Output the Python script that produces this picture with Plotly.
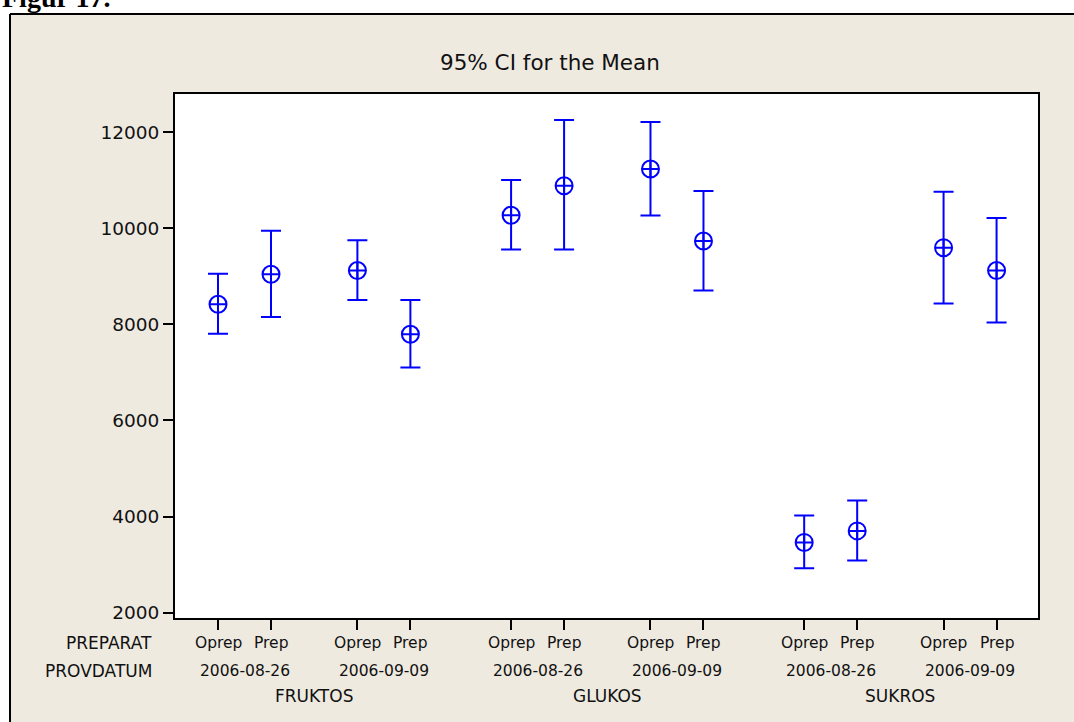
import plotly.graph_objects as go

# Category levels along the x axis
groups = ["FRUKTOS", "GLUKOS", "SUKROS"]
dates = ["2006-08-26", "2006-09-09"]
preps = ["Oprep", "Prep"]

# Means and 95% confidence limits, ordered group -> date -> preparation
mean_vals = [8420, 9045, 9125, 7795, 10275, 10890, 11240, 9740, 3460, 3700, 9600, 9125]
lower_vals = [7806, 8154, 8508, 7105, 9561, 9561, 10268, 8708, 2922, 3082, 8437, 8040]
upper_vals = [9055, 9950, 9757, 8508, 11011, 12260, 12218, 10783, 4019, 4331, 10763, 10220]

y_ticks = [2000, 4000, 6000, 8000, 10000, 12000]

# Horizontal layout: preparations 1 unit apart, extra gaps between dates and groups
DATE_STEP = 2.63
GROUP_STEP = 5.53
x_pos, x_prep = [], []
for gi, g in enumerate(groups):
    for di, d in enumerate(dates):
        for pi, p in enumerate(preps):
            x_pos.append(gi * GROUP_STEP + di * DATE_STEP + pi)
            x_prep.append(p)

err_plus = [u - m for u, m in zip(upper_vals, mean_vals)]
err_minus = [m - l for m, l in zip(mean_vals, lower_vals)]

BLUE = "#0000FF"
BEIGE = "#EEEAE0"
TXT = "#111111"
FONT = "DejaVu Sans"

fig = go.Figure()
fig.add_trace(go.Scatter(
    x=x_pos, y=mean_vals, mode="markers",
    marker=dict(symbol="circle-cross-open", size=17, color=BLUE,
                line=dict(color=BLUE, width=2)),
    error_y=dict(type="data", symmetric=False, array=err_plus,
                 arrayminus=err_minus, color=BLUE, thickness=2, width=10),
    showlegend=False,
))

# pixel geometry of the plot area
W, H = 1074, 722
L, R, T, B = 175, 1038, 94, 618.5
pw, ph = R - L, B - T


def px(xp):
    return (xp - L) / pw


def py(yp):
    return (B - yp) / ph


ann = []
# title
ann.append(dict(x=px(550), y=py(62), xref="paper", yref="paper",
                text="95% CI for the Mean", showarrow=False,
                font=dict(family=FONT, size=21.5, color=TXT),
                xanchor="center", yanchor="middle"))
# row headers
for txt, yp in [("PREPARAT", 644), ("PROVDATUM", 672)]:
    ann.append(dict(x=px(154), y=py(yp), xref="paper", yref="paper",
                    text=txt, showarrow=False,
                    font=dict(family=FONT, size=17, color=TXT),
                    xanchor="right", yanchor="middle"))
# preparation labels under each tick
for xv, p in zip(x_pos, x_prep):
    ann.append(dict(x=xv, y=py(644), xref="x", yref="paper", text=p,
                    showarrow=False, font=dict(family=FONT, size=15.5, color=TXT),
                    xanchor="center", yanchor="middle"))
# date labels centred under each pair, group labels under each group
for gi, g in enumerate(groups):
    gx = x_pos[gi * 4:(gi + 1) * 4]
    for di, d in enumerate(dates):
        pair = gx[di * 2:(di + 1) * 2]
        ann.append(dict(x=sum(pair) / 2, y=py(672), xref="x", yref="paper",
                        text=d, showarrow=False,
                        font=dict(family=FONT, size=15.5, color=TXT),
                        xanchor="center", yanchor="middle"))
    ann.append(dict(x=sum(gx) / 4, y=py(697), xref="x", yref="paper",
                    text=g, showarrow=False,
                    font=dict(family=FONT, size=17, color=TXT),
                    xanchor="center", yanchor="middle"))
# figure caption above the panel
ann.append(dict(x=px(0), y=py(15), xref="paper", yref="paper",
                text="<b>Figur 17.</b>", showarrow=False,
                font=dict(family="Liberation Serif", size=28, color="#000000"),
                xanchor="left", yanchor="bottom"))

shapes = [
    # white page strip above and left of the panel
    dict(type="rect", xref="paper", yref="paper", x0=px(-10), x1=px(W + 10),
         y0=py(14), y1=py(-10), fillcolor="white", line=dict(width=0), layer="below"),
    dict(type="rect", xref="paper", yref="paper", x0=px(-10), x1=px(10),
         y0=py(H + 10), y1=py(-10), fillcolor="white", line=dict(width=0), layer="below"),
    # panel border
    dict(type="line", xref="paper", yref="paper", x0=px(10), x1=px(W + 10),
         y0=py(14), y1=py(14), line=dict(color="black", width=2)),
    dict(type="line", xref="paper", yref="paper", x0=px(10), x1=px(10),
         y0=py(14), y1=py(H + 10), line=dict(color="black", width=2)),
]

x_lo = -(218 - L) / 53.0
x_hi = x_lo + pw / 53.0
y_per_px = (12000 - 2000) / (613 - 132.5)
y_lo = 2000 - (B - 613) * y_per_px
y_hi = 2000 + (613 - T) * y_per_px

fig.update_layout(
    width=W, height=H,
    margin=dict(l=L, r=W - R, t=T, b=H - B, pad=0),
    paper_bgcolor=BEIGE, plot_bgcolor="white",
    annotations=ann, shapes=shapes,
    font=dict(family=FONT, color=TXT),
    xaxis=dict(range=[x_lo, x_hi], tickvals=x_pos, showticklabels=False,
               ticks="outside", ticklen=10, tickwidth=2, tickcolor="black",
               showline=True, linecolor="black", linewidth=2, mirror=True,
               showgrid=False, zeroline=False),
    yaxis=dict(range=[y_lo, y_hi], tickvals=y_ticks, tickformat="d",
               ticks="outside", ticklen=10, tickwidth=2, tickcolor="black",
               tickfont=dict(family=FONT, size=18.5, color=TXT),
               ticklabelstandoff=0,
               showline=True, linecolor="black", linewidth=2, mirror=True,
               showgrid=False, zeroline=False),
)

fig.write_html("out.html", config=dict(displayModeBar=False))
